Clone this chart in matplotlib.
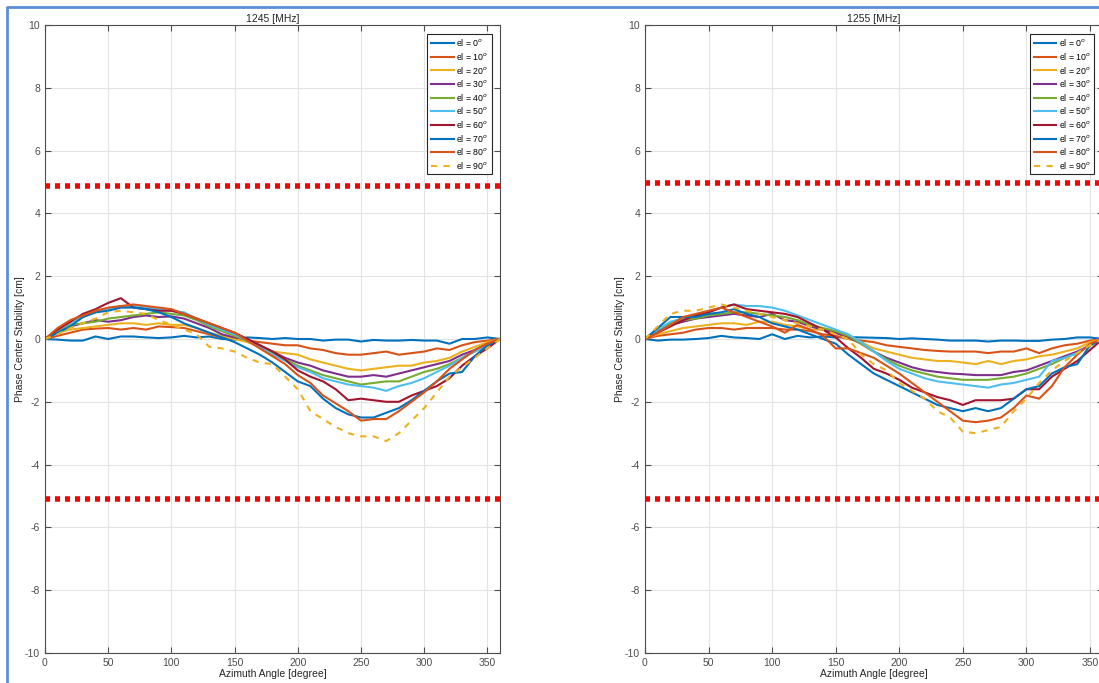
import numpy as np
import matplotlib.pyplot as plt
from matplotlib.lines import Line2D

azimuth = np.arange(0, 361, 10)
elevations = [0, 10, 20, 30, 40, 50, 60, 70, 80, 90]

# phase centre stability [cm], one row per elevation, 0..360 deg in 10 deg steps
pcs_1245 = [
    [0, -0.02, -0.05, -0.05, 0.08, 0.0, 0.08, 0.08, 0.05, 0.03, 0.05, 0.1, 0.05, 0.08, 0.0, -0.02, 0.05, 0.03, 0.0,
     0.03, 0.0, 0.0, -0.05, -0.02, -0.02, -0.08, -0.03, -0.05, -0.05, -0.03, -0.05, -0.05, -0.15, 0.0, 0.0, 0.05, 0],
    [0, 0.1, 0.2, 0.3, 0.33, 0.35, 0.3, 0.35, 0.3, 0.4, 0.38, 0.35, 0.25, 0.15, 0.05, 0.0, -0.05, -0.1, -0.15,
     -0.2, -0.2, -0.3, -0.35, -0.45, -0.5, -0.5, -0.45, -0.4, -0.5, -0.45, -0.4, -0.3, -0.35, -0.2, -0.1, -0.05, 0],
    [0, 0.2, 0.3, 0.35, 0.4, 0.45, 0.5, 0.5, 0.45, 0.5, 0.45, 0.45, 0.35, 0.2, 0.1, 0.0, -0.1, -0.25, -0.4,
     -0.45, -0.5, -0.65, -0.75, -0.85, -0.95, -1.0, -0.95, -0.9, -0.85, -0.85, -0.75, -0.7, -0.6, -0.4, -0.25, -0.1, 0],
    [0, 0.25, 0.4, 0.5, 0.6, 0.55, 0.6, 0.7, 0.75, 0.7, 0.72, 0.65, 0.5, 0.35, 0.15, 0.05, 0.0, -0.2, -0.4,
     -0.6, -0.75, -0.85, -1.0, -1.1, -1.2, -1.2, -1.15, -1.2, -1.1, -1.0, -0.9, -0.8, -0.7, -0.5, -0.35, -0.15, 0],
    [0, 0.25, 0.45, 0.5, 0.55, 0.65, 0.7, 0.75, 0.8, 0.85, 0.8, 0.75, 0.6, 0.4, 0.25, 0.1, -0.05, -0.2, -0.45,
     -0.65, -0.85, -1.0, -1.15, -1.25, -1.35, -1.45, -1.4, -1.35, -1.35, -1.2, -1.05, -0.95, -0.8, -0.6, -0.4, -0.2, 0],
    [0, 0.3, 0.5, 0.7, 0.85, 0.95, 1.05, 1.05, 1.0, 0.95, 0.9, 0.85, 0.65, 0.45, 0.3, 0.15, -0.05, -0.25, -0.5,
     -0.7, -0.9, -1.05, -1.25, -1.35, -1.45, -1.5, -1.55, -1.65, -1.5, -1.4, -1.25, -1.05, -0.85, -0.6, -0.4, -0.2, 0],
    [0, 0.3, 0.55, 0.8, 0.95, 1.15, 1.3, 1.0, 0.95, 0.9, 0.9, 0.8, 0.65, 0.5, 0.35, 0.2, 0.0, -0.2, -0.4,
     -0.65, -1.0, -1.2, -1.35, -1.6, -1.95, -1.9, -1.95, -2.0, -2.0, -1.8, -1.65, -1.5, -1.25, -0.85, -0.55, -0.3, 0],
    [0, 0.2, 0.4, 0.7, 0.85, 0.9, 1.0, 1.0, 0.95, 0.85, 0.7, 0.5, 0.35, 0.2, 0.05, -0.1, -0.3, -0.5, -0.75,
     -1.05, -1.35, -1.5, -1.9, -2.2, -2.4, -2.5, -2.5, -2.35, -2.2, -1.95, -1.65, -1.35, -1.1, -1.05, -0.55, -0.2, 0],
    [0, 0.35, 0.6, 0.75, 0.9, 1.0, 1.05, 1.1, 1.05, 1.0, 0.95, 0.8, 0.65, 0.5, 0.35, 0.2, -0.05, -0.3, -0.55,
     -0.8, -1.15, -1.4, -1.8, -2.05, -2.3, -2.6, -2.55, -2.55, -2.3, -2.0, -1.7, -1.35, -0.95, -0.65, -0.35, -0.15, 0],
    [0, 0.15, 0.35, 0.5, 0.65, 0.85, 0.9, 0.85, 0.8, 0.6, 0.45, 0.3, 0.15, -0.25, -0.3, -0.4, -0.6, -0.75, -0.8,
     -1.2, -1.6, -2.3, -2.55, -2.8, -3.0, -3.1, -3.1, -3.25, -3.0, -2.6, -2.2, -1.7, -1.2, -0.9, -0.6, -0.3, 0],
]

pcs_1255 = [
    [0, -0.05, -0.02, -0.02, 0.0, 0.03, 0.1, 0.05, 0.03, 0.0, 0.15, 0.0, 0.1, 0.05, 0.08, 0.05, 0.06, 0.05, 0.04,
     0.03, 0.0, 0.02, 0.0, -0.02, -0.05, -0.05, -0.05, -0.08, -0.05, -0.05, -0.06, -0.06, -0.02, 0.0, 0.05, 0.05, 0],
    [0, 0.1, 0.15, 0.2, 0.3, 0.35, 0.35, 0.3, 0.35, 0.35, 0.35, 0.3, 0.3, 0.25, 0.15, 0.1, 0.0, -0.05, -0.1,
     -0.2, -0.25, -0.3, -0.35, -0.38, -0.4, -0.4, -0.4, -0.45, -0.4, -0.4, -0.3, -0.45, -0.3, -0.2, -0.15, -0.05, 0],
    [0, 0.15, 0.25, 0.35, 0.4, 0.45, 0.5, 0.5, 0.45, 0.55, 0.55, 0.45, 0.4, 0.3, 0.3, 0.2, 0.0, -0.1, -0.3,
     -0.4, -0.5, -0.6, -0.65, -0.7, -0.7, -0.75, -0.8, -0.7, -0.8, -0.7, -0.65, -0.55, -0.5, -0.4, -0.3, -0.1, 0],
    [0, 0.25, 0.45, 0.55, 0.65, 0.7, 0.75, 0.8, 0.75, 0.7, 0.8, 0.6, 0.55, 0.4, 0.3, 0.2, 0.05, -0.15, -0.4,
     -0.6, -0.75, -0.9, -1.0, -1.05, -1.1, -1.12, -1.15, -1.15, -1.15, -1.05, -1.0, -0.85, -0.7, -0.55, -0.4, -0.2, 0],
    [0, 0.3, 0.5, 0.6, 0.65, 0.75, 0.8, 0.85, 0.85, 0.8, 0.75, 0.7, 0.6, 0.45, 0.35, 0.25, 0.1, -0.15, -0.4,
     -0.65, -0.85, -1.0, -1.1, -1.2, -1.25, -1.3, -1.3, -1.3, -1.25, -1.2, -1.1, -0.95, -0.8, -0.6, -0.45, -0.2, 0],
    [0, 0.3, 0.55, 0.65, 0.75, 0.85, 1.0, 1.1, 1.05, 1.05, 1.0, 0.9, 0.75, 0.6, 0.45, 0.3, 0.15, -0.1, -0.4,
     -0.7, -0.95, -1.1, -1.25, -1.35, -1.4, -1.45, -1.5, -1.55, -1.45, -1.4, -1.3, -1.2, -0.7, -0.6, -0.45, -0.2, 0],
    [0, 0.2, 0.4, 0.6, 0.75, 0.85, 1.0, 1.1, 0.95, 0.9, 0.85, 0.8, 0.7, 0.5, 0.3, 0.05, -0.3, -0.6, -0.95,
     -1.1, -1.3, -1.55, -1.7, -1.85, -1.95, -2.1, -1.95, -1.95, -1.95, -1.9, -1.6, -1.6, -1.2, -0.95, -0.7, -0.35, 0],
    [0, 0.35, 0.7, 0.7, 0.7, 0.8, 0.85, 0.95, 0.8, 0.7, 0.5, 0.4, 0.3, 0.15, 0.0, -0.15, -0.5, -0.8, -1.1,
     -1.3, -1.5, -1.7, -1.9, -2.1, -2.2, -2.3, -2.2, -2.3, -2.2, -1.9, -1.6, -1.5, -1.1, -0.9, -0.8, -0.2, 0],
    [0, 0.2, 0.45, 0.7, 0.8, 0.9, 1.0, 0.85, 0.7, 0.55, 0.4, 0.2, 0.45, 0.3, 0.1, -0.3, -0.3, -0.45, -0.6,
     -0.85, -1.1, -1.4, -1.7, -2.0, -2.3, -2.6, -2.65, -2.6, -2.5, -2.2, -1.8, -1.9, -1.5, -0.9, -0.5, -0.15, 0],
    [0, 0.4, 0.8, 0.9, 0.9, 1.0, 1.1, 1.0, 0.9, 0.8, 0.7, 0.6, 0.5, 0.4, 0.3, 0.15, 0.0, -0.5, -0.8,
     -1.0, -1.4, -1.65, -1.9, -2.3, -2.5, -2.95, -3.0, -2.9, -2.8, -2.3, -1.9, -1.4, -1.0, -0.7, -0.45, -0.2, 0],
]

frequencies = ['1245 [MHz]', '1255 [MHz]']
upper_limit = [4.87, 4.97]
lower_limit = [-5.1, -5.08]

colors = ['#0072BD', '#D95319', '#EDB120', '#7E2F8E', '#77AC30',
          '#4DBEEE', '#A2142F', '#0072BD', '#D95319', '#EDB120']

plt.rcParams['font.family'] = 'Liberation Sans'
plt.rcParams['axes.unicode_minus'] = False
fig = plt.figure(figsize=(10.99, 6.83), dpi=100)
axes = [fig.add_axes([45 / 1099, 30 / 683, 455 / 1099, 628 / 683]),
        fig.add_axes([645 / 1099, 30 / 683, 457.7 / 1099, 628 / 683])]

for ax, data, title, hi, lo in zip(axes, [pcs_1245, pcs_1255], frequencies, upper_limit, lower_limit):
    for el, values, c in zip(elevations, data, colors):
        ls = (0, (3, 3)) if el == 90 else '-'
        ax.plot(azimuth, values, color=c, lw=1.5, ls=ls, label=f'el = {el}$^{{o}}$')
    ax.axhline(hi, color='#FF0000', lw=4, ls=(0, (0.9, 0.9)))
    ax.axhline(lo, color='#FF0000', lw=4, ls=(0, (0.9, 0.9)))
    ax.set_xlim(0, 360)
    ax.set_ylim(-10, 10)
    ax.set_xticks(np.arange(0, 351, 50))
    ax.set_yticks(np.arange(-10, 11, 2))
    ax.grid(color='#e3e3e3', lw=0.8)
    ax.set_axisbelow(True)
    ax.tick_params(direction='in', length=4, labelsize=7.5, colors='#4d4d4d', top=True, right=True)
    for s in ax.spines.values():
        s.set_color('#4d4d4d')
        s.set_linewidth(0.8)
    ax.set_title(title, fontsize=7.5, color='#262626', pad=2)
    ax.set_xlabel('Azimuth Angle [degree]', fontsize=7.5, color='#262626', labelpad=1)
    ax.set_ylabel('Phase Center Stability [cm]', fontsize=7.5, color='#262626', labelpad=0)
    leg = ax.legend(loc='upper right', fontsize=6.3, handlelength=2.6, labelspacing=0.3,
                    borderpad=0.4, handletextpad=0.3, fancybox=False, framealpha=1,
                    borderaxespad=0, bbox_to_anchor=(0.982, 0.986))
    leg.get_frame().set_edgecolor('#262626')
    leg.get_frame().set_linewidth(0.8)

# window frame
fig.add_artist(Line2D([7 / 1099, 7 / 1099, 1], [0, 1 - 7 / 683, 1 - 7 / 683],
                      transform=fig.transFigure, color='#5b8fd6', lw=2))

fig.savefig('out.png', dpi=100)
